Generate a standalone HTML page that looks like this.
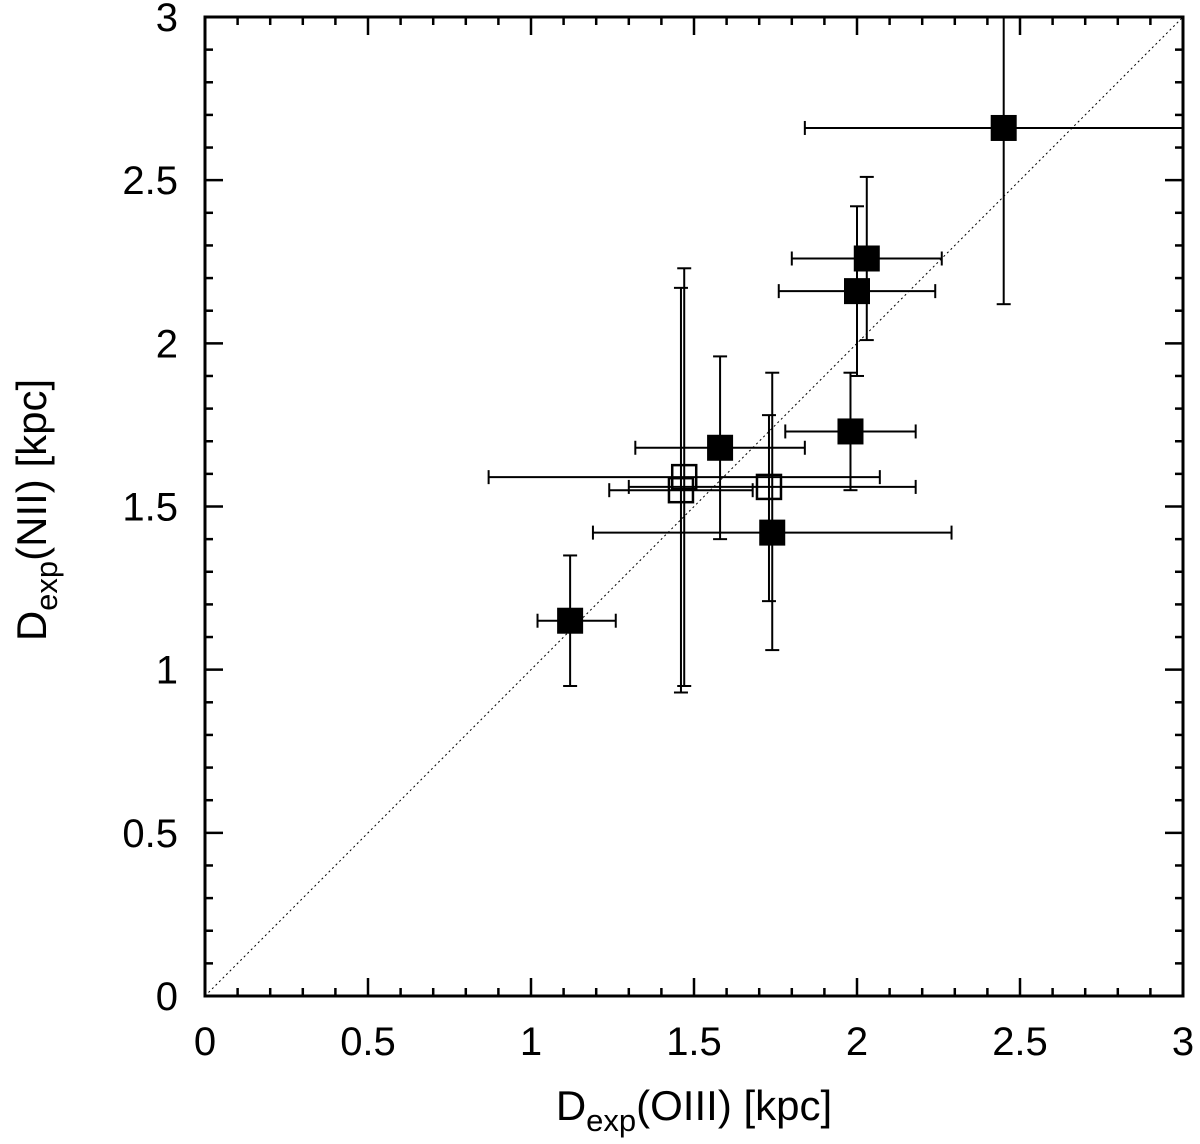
<!DOCTYPE html>
<html><head><meta charset="utf-8"><style>
html,body{margin:0;padding:0;background:#fff;}
svg text{font-family:"Liberation Sans",Arial,sans-serif;fill:#000;}
</style></head><body>
<svg id="chart" width="1200" height="1139" viewBox="0 0 1200 1139" xmlns="http://www.w3.org/2000/svg">
<defs><clipPath id="pc"><rect x="205" y="17" width="978" height="979"/></clipPath></defs>
<g id="data" clip-path="url(#pc)"></g>
<rect x="205" y="17" width="978" height="979" fill="none" stroke="#000" stroke-width="3"/>
<g id="ticks"></g>
<text x="694" y="1120" font-size="42" text-anchor="middle">D<tspan font-size="31" dy="11">exp</tspan><tspan dy="-11">(OIII) [kpc]</tspan></text>
<text transform="translate(46,510) rotate(-90)" font-size="42" text-anchor="middle">D<tspan font-size="31" dy="11">exp</tspan><tspan dy="-11">(NII) [kpc]</tspan></text>
</svg>
<script>
const xs=[1.12,1.58,1.74,1.98,2.00,2.03,2.45,1.47,1.46,1.73];
const ys=[1.15,1.68,1.42,1.73,2.16,2.26,2.66,1.59,1.55,1.56];
const xlo=[1.02,1.32,1.19,1.78,1.76,1.80,1.84,0.87,1.24,1.30];
const xhi=[1.26,1.84,2.29,2.18,2.24,2.26,3.20,2.07,1.68,2.18];
const ylo=[0.95,1.40,1.06,1.55,1.90,2.01,2.12,0.95,0.93,1.21];
const yhi=[1.35,1.96,1.91,1.91,2.42,2.51,3.20,2.23,2.17,1.78];
const filled=[1,1,1,1,1,1,1,0,0,0];
const tickVals=[0,0.5,1,1.5,2,2.5,3];
const tickLabels=["0","0.5","1","1.5","2","2.5","3"];
const NS="http://www.w3.org/2000/svg";
const X=v=>205+v*326, Y=v=>996-v*326.33;
function mk(t,a,p){const e=document.createElementNS(NS,t);for(const k in a)e.setAttribute(k,a[k]);p.appendChild(e);return e;}
const data=document.getElementById('data'),ticks=document.getElementById('ticks');
const diag=mk('line',{x1:X(0),y1:Y(0),x2:X(3),y2:Y(3),stroke:'#000','stroke-width':1,'stroke-dasharray':'2,3'},data);


for(let i=0;i<=30;i++){const v=i/10,maj=i%5===0,L=maj?18:8;
 const a=mk('line',{x1:X(v),y1:996,x2:X(v),y2:996-L,stroke:'#000','stroke-width':2.5},ticks);
 
 const b=mk('line',{x1:X(v),y1:17,x2:X(v),y2:17+L,stroke:'#000','stroke-width':2.5},ticks);
 
 const c=mk('line',{x1:205,y1:Y(v),x2:205+L,y2:Y(v),stroke:'#000','stroke-width':2.5},ticks);
 
 const d=mk('line',{x1:1183,y1:Y(v),x2:1183-L,y2:Y(v),stroke:'#000','stroke-width':2.5},ticks);
 }
tickVals.forEach((v,i)=>{
 const t=mk('text',{x:X(v),y:1055,'font-size':40,'text-anchor':'middle'},ticks);t.textContent=tickLabels[i];
 
 const u=mk('text',{x:178,y:Y(v)+14,'font-size':40,'text-anchor':'end'},ticks);u.textContent=tickLabels[i];
 });
xs.forEach((x,i)=>{
 const g=mk('g',{},data);
 
 
 const cx=X(x),cy=Y(ys[i]),s={stroke:'#000','stroke-width':2};
 mk('line',Object.assign({x1:X(xlo[i]),y1:cy,x2:X(xhi[i]),y2:cy},s),g);
 mk('line',Object.assign({x1:cx,y1:Y(ylo[i]),x2:cx,y2:Y(yhi[i])},s),g);
 mk('line',Object.assign({x1:X(xlo[i]),y1:cy-7,x2:X(xlo[i]),y2:cy+7},s),g);
 mk('line',Object.assign({x1:X(xhi[i]),y1:cy-7,x2:X(xhi[i]),y2:cy+7},s),g);
 mk('line',Object.assign({x1:cx-7,y1:Y(ylo[i]),x2:cx+7,y2:Y(ylo[i])},s),g);
 mk('line',Object.assign({x1:cx-7,y1:Y(yhi[i]),x2:cx+7,y2:Y(yhi[i])},s),g);
 if(filled[i]) mk('rect',{x:cx-13,y:cy-13,width:26,height:26,fill:'#000'},g);
 else mk('rect',{x:cx-12,y:cy-12,width:24,height:24,fill:'none',stroke:'#000','stroke-width':2.5},g);
});
</script>
</body></html>
